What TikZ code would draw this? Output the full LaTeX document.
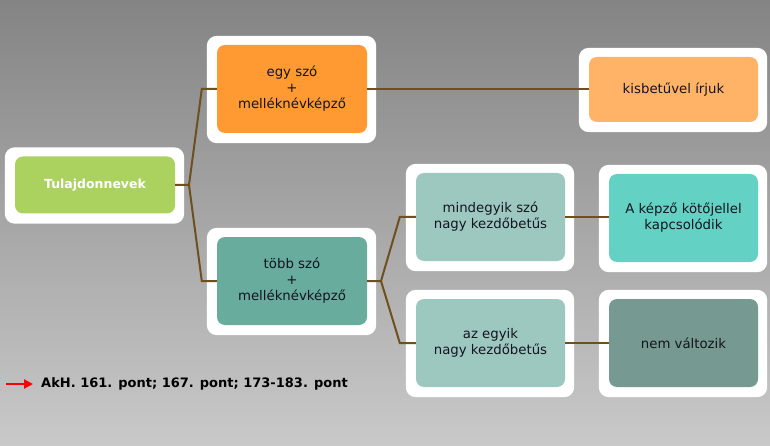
\documentclass[tikz,border=0pt]{standalone}
\usepackage{fontspec}
\setmainfont{DejaVu Sans}
\usetikzlibrary{arrows.meta}
\pgfdeclarelayer{back}
\pgfdeclarelayer{frames}
\pgfsetlayers{back,frames,main}
\definecolor{bgtop}{HTML}{848484}
\definecolor{bgbot}{HTML}{C9C9C9}
\definecolor{cgreen}{HTML}{ABD15E}
\definecolor{corange}{HTML}{FF9A33}
\definecolor{clorange}{HTML}{FFB366}
\definecolor{cteal}{HTML}{68AC9D}
\definecolor{clteal}{HTML}{9DC8C0}
\definecolor{cturq}{HTML}{63D2C4}
\definecolor{cgteal}{HTML}{769A91}
\definecolor{clink}{HTML}{6E4F1E}
\definecolor{ctext}{HTML}{14141E}
\tikzset{
  box/.style={rounded corners=8pt, align=center, inner sep=0pt,
    font=\fontsize{13.3}{16}\selectfont, text=ctext,
    minimum width=149pt, minimum height=88pt},
  link/.style={draw=clink, line width=2pt},
  frame/.style={fill=white, rounded corners=10pt}
}
\newcommand\myframe[1]{\fill[frame] ([shift={(-10pt,-10pt)}]#1.south west) rectangle ([shift={(9pt,9pt)}]#1.north east);}
\begin{document}
\begin{tikzpicture}[x=1pt,y=-1pt]
\begin{pgfonlayer}{back}
\shade[top color=bgtop, bottom color=bgbot] (0,0) rectangle (770,446);
\end{pgfonlayer}
\useasboundingbox (0,0) rectangle (770,446);

\node[box, fill=cgreen, minimum width=160pt, minimum height=57pt, text=white,
  font=\fontsize{12.5}{15}\bfseries\selectfont] (tul) at (95,185) {Tulajdonnevek};
\node[box, fill=corange, minimum width=150pt] (egy) at (292,89) {egy szó\\+\\melléknévképző};
\node[box, fill=clorange, minimum width=169pt, minimum height=65pt] (kis) at (673.5,89.5) {kisbetűvel írjuk};
\node[box, fill=cteal, minimum width=150pt] (tobb) at (292,281) {több szó\\+\\melléknévképző};
\node[box, fill=clteal] (mind) at (490.5,217) {mindegyik szó\\nagy kezdőbetűs};
\node[box, fill=cturq] (kep) at (683.5,218) {A képző kötőjellel\\kapcsolódik};
\node[box, fill=clteal] (azegy) at (490.5,343) {az egyik\\nagy kezdőbetűs};
\node[box, fill=cgteal] (nem) at (683.5,343) {nem változik};

\begin{pgfonlayer}{frames}
\myframe{tul}\myframe{egy}\myframe{kis}\myframe{tobb}
\myframe{mind}\myframe{kep}\myframe{azegy}\myframe{nem}
\end{pgfonlayer}

\coordinate (j1) at (189,185);
\coordinate (j2) at (381,281);
\draw[link] (tul.east) -- (j1) -- ([xshift=-15pt]egy.west) -- (egy.west);
\draw[link] (j1) -- ([xshift=-15pt]tobb.west) -- (tobb.west);
\draw[link] (egy.east) -- (kis.west |- egy.east);
\draw[link] (tobb.east) -- (j2) -- ([xshift=-16pt]mind.west) -- (mind.west);
\draw[link] (j2) -- ([xshift=-16pt]azegy.west) -- (azegy.west);
\draw[link] (mind.east) -- (kep.west |- mind.east);
\draw[link] (azegy.east) -- (nem.west);

\coordinate (as) at (6,384);
\node[anchor=west, inner sep=0pt, font=\fontsize{13}{15}\bfseries\selectfont, text=black] (ref) at (41,384) {AkH. 161. pont; 167. pont; 173-183. pont};
\draw[red, line width=2.5pt, -{Triangle[length=9pt,width=9pt]}] (as) -- ([xshift=-8pt]ref.west);
\end{tikzpicture}
\end{document}
